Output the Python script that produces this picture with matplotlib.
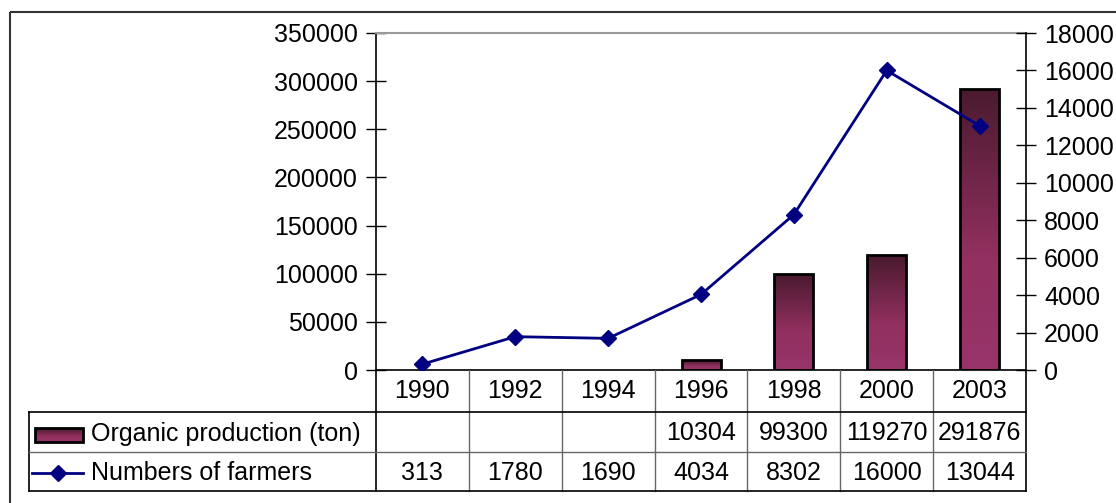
import numpy as np
import matplotlib
matplotlib.use('Agg')
import matplotlib.pyplot as plt
from matplotlib.colors import LinearSegmentedColormap
from matplotlib.patches import Rectangle
from matplotlib.lines import Line2D

plt.rcParams['font.family'] = ['Liberation Sans', 'DejaVu Sans']

# data
years = ['1990', '1992', '1994', '1996', '1998', '2000', '2003']
production = [None, None, None, 10304, 99300, 119270, 291876]
farmers = [313, 1780, 1690, 4034, 8302, 16000, 13044]
prod_label = 'Organic production (ton)'
farm_label = 'Numbers of farmers'

W, H = 1116, 503
fig = plt.figure(figsize=(W / 100, H / 100), dpi=100)
fs = 18


def px_axes(x0, y0, x1, y1, **kw):
    return fig.add_axes([x0 / W, 1 - y1 / H, (x1 - x0) / W, (y1 - y0) / H], **kw)


# outer frame (right and bottom edges run off the picture)
frame = px_axes(0, 0, W, H)
frame.set_xlim(0, W)
frame.set_ylim(H, 0)
frame.axis('off')
frame.add_patch(Rectangle((10, 12), 1130, 520, fill=False, ec='#333333', lw=1.5))

cmap = LinearSegmentedColormap.from_list('bar', [(0, '#98346a'), (0.4, '#92305f'), (1.0, '#4a1a2f')])

# main plot area
ax = px_axes(376, 33, 1026, 370)
x = np.arange(len(years))
ax.set_yticks(np.arange(0, 350001, 50000))
ax.set_xticks([])
ax.tick_params(axis='y', direction='inout', length=14, width=1, labelsize=fs, pad=6)
ax.spines['right'].set_visible(False)
ax.spines['top'].set_color('#999999')
ax.spines['top'].set_linewidth(1.5)
ax.spines['left'].set_linewidth(1.2)
ax.spines['bottom'].set_linewidth(1.2)

bw = 0.42
grad = np.linspace(0, 1, 256).reshape(-1, 1)
for xi, v in zip(x, production):
    if v is None:
        continue
    rect = Rectangle((xi - bw / 2, 0), bw, v, fill=False, ec='black', lw=2, zorder=3)
    ax.add_patch(rect)
    im = ax.imshow(grad, cmap=cmap, origin='lower', aspect='auto',
                   extent=(xi - bw / 2, xi + bw / 2, 0, v), zorder=2)
    im.set_clip_path(rect)
ax.set_xlim(-0.5, len(years) - 0.5)
ax.set_ylim(0, 350000)

ax2 = ax.twinx()
ax2.set_ylim(0, 18000)
ax2.set_yticks(np.arange(0, 18001, 2000))
ax2.tick_params(axis='y', direction='inout', length=14, width=1, labelsize=fs, pad=6)
for s in ['left', 'top', 'bottom']:
    ax2.spines[s].set_visible(False)
ax2.spines['right'].set_linewidth(1.2)
ax2.plot(x, farmers, color='#000080', lw=2, marker='D', ms=8, zorder=5)

# data table
tab = px_axes(10, 370, 1030, 500)
colw = (1026 - 376) / len(years)
edges = [376 + i * colw for i in range(len(years) + 1)]
inner = '#666666'
for e in edges[1:-1]:
    tab.plot([e, e], [370, 491], color=inner, lw=1)
tab.plot([376, 376], [370, 491], color='black', lw=1.2)
tab.plot([1026, 1026], [370, 491], color='black', lw=1.2)
tab.plot([29, 29], [412, 491], color='black', lw=1.2)
tab.plot([29, 1026], [412, 412], color='black', lw=1.2)
tab.plot([29, 1026], [452, 452], color=inner, lw=1)
tab.plot([29, 1026], [491, 491], color='black', lw=1.2)

for i, yr in enumerate(years):
    cx = (edges[i] + edges[i + 1]) / 2
    tab.text(cx, 391, yr, ha='center', va='center', fontsize=fs)
    if production[i] is not None:
        tab.text(cx, 433, str(production[i]), ha='center', va='center', fontsize=fs)
    tab.text(cx, 473, str(farmers[i]), ha='center', va='center', fontsize=fs)

# legend keys
key = Rectangle((35, 428), 48, 14, fill=False, ec='black', lw=2, zorder=3)
tab.add_patch(key)
kim = tab.imshow(grad[::-1], cmap=cmap, aspect='auto', extent=(35, 83, 442, 428), zorder=2)
kim.set_clip_path(key)
tab.add_line(Line2D([32, 83], [473, 473], color='#000080', lw=2))
tab.plot([58], [473], marker='D', color='#000080', ms=8)
tab.text(91, 434, prod_label, ha='left', va='center', fontsize=fs)
tab.text(91, 473, farm_label, ha='left', va='center', fontsize=fs)
tab.set_xlim(10, 1030)
tab.set_ylim(500, 370)
tab.axis('off')

fig.savefig('out.png', dpi=100)
